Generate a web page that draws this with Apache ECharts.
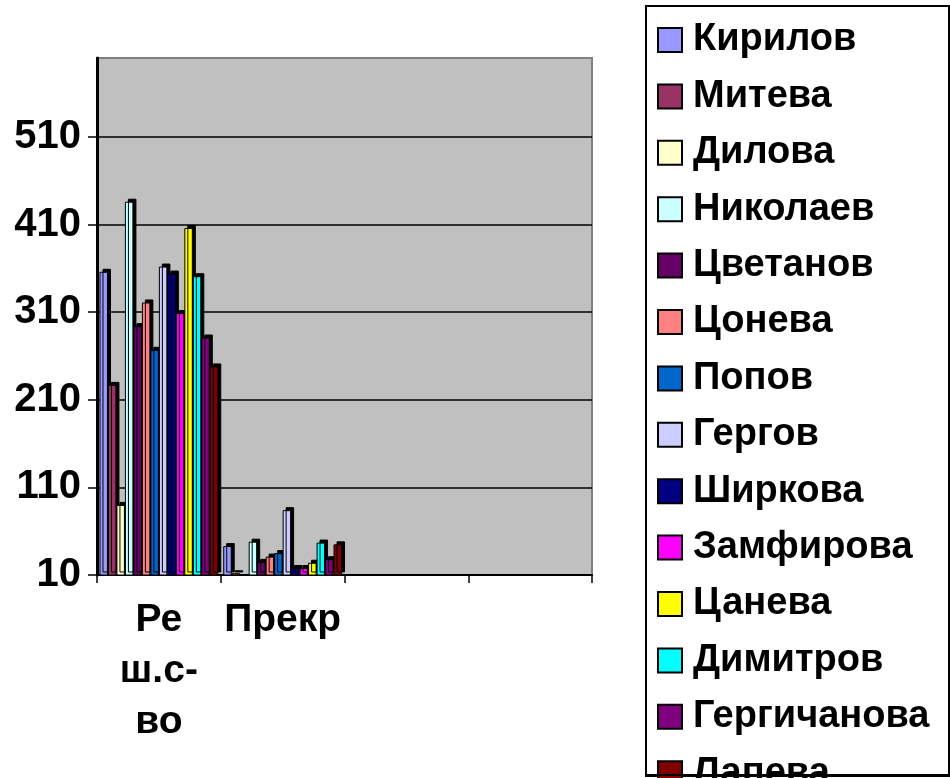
<!DOCTYPE html>
<html>
<head>
<meta charset="utf-8">
<script src="https://cdn.jsdelivr.net/npm/echarts@6/dist/echarts.min.js"></script>
<style>
  html, body { margin: 0; padding: 0; background: #fff; }
  #chart { width: 950px; height: 778px; }
</style>
</head>
<body>
<div id="chart"></div>
<script>
// categories on the x axis (only two carry data)
const categories = ["Реш.с-во", "Прекр", "", ""];
const categoryLabels = { "Реш.с-во": "Ре\nш.с-\nво" };

const names = ["Кирилов", "Митева", "Дилова", "Николаев", "Цветанов", "Цонева", "Попов",
  "Гергов", "Ширкова", "Замфирова", "Цанева", "Димитров", "Гергичанова", "Лапева"];

const colors = ["#9999FF", "#993366", "#FFFFCC", "#CCFFFF", "#660066", "#FF8080", "#0066CC",
  "#CCCCFF", "#000080", "#FF00FF", "#FFFF00", "#00FFFF", "#800080", "#800000"];

// values per category, one entry per person
const reshValues = [356, 227, 90, 436, 294, 321, 267, 362, 354, 309, 406, 351, 281, 248];
const prekrValues = [43, 12, 10, 48, 25, 31, 35, 84, 18, 18, 24, 47, 28, 45];

const yTicks = [110, 210, 310, 410, 510];

const font = "'Liberation Sans', Arial, sans-serif";

const chart = echarts.init(document.getElementById("chart"));

const series = names.map((n, i) => ({
  name: n,
  type: "bar",
  barGap: "0%",
  barCategoryGap: "4%",
  data: [reshValues[i], prekrValues[i], null, null],
  itemStyle: {
    color: colors[i],
    borderColor: "#000",
    borderWidth: 1,
    shadowColor: "#000",
    shadowBlur: 0,
    shadowOffsetX: 3,
    shadowOffsetY: -3
  },
  emphasis: { disabled: true },
  markLine: i === 0 ? {
    silent: true,
    symbol: "none",
    z: 1,
    label: { show: false },
    lineStyle: { color: "#000", width: 1.5, type: "solid" },
    data: yTicks.map(v => ({ yAxis: v }))
  } : undefined
}));

chart.setOption({
  animation: false,
  backgroundColor: "#fff",
  grid: {
    left: 97, right: 358, top: 58, bottom: 203,
    show: true, backgroundColor: "#C0C0C0", borderColor: "#808080", borderWidth: 2
  },
  graphic: [{
    type: "rect",
    left: 645, top: 5, z: -1,
    shape: { width: 303, height: 770 },
    style: { fill: "#fff", stroke: "#000", lineWidth: 2 }
  }, {
    type: "line",
    z: 100,
    shape: { x1: 645, y1: 775, x2: 948, y2: 775 },
    style: { stroke: "#000", lineWidth: 2 }
  }],
  legend: {
    orient: "vertical",
    left: 657, top: 21,
    height: 900,
    padding: 0,
    itemWidth: 24, itemHeight: 24,
    itemGap: 18.4,
    icon: "rect",
    data: names,
    itemStyle: { borderColor: "#000", borderWidth: 2, shadowBlur: 0, shadowOffsetX: 0, shadowOffsetY: 0, shadowColor: "rgba(0,0,0,0)" },
    textStyle: { fontFamily: font, fontSize: 38, lineHeight: 38, fontWeight: "bold", color: "#000", padding: [0, 0, 0, 6] },
    selectedMode: false
  },
  xAxis: {
    type: "category",
    data: categories,
    axisLine: { show: true, lineStyle: { color: "#000", width: 2 } },
    axisTick: { show: true, length: 8, lineStyle: { color: "#000", width: 1.5 } },
    axisLabel: {
      interval: 0,
      margin: 20,
      fontFamily: font, fontSize: 39, fontWeight: "bold", color: "#000",
      lineHeight: 51,
      formatter: v => categoryLabels[v] || v
    },
    splitLine: { show: false }
  },
  yAxis: {
    type: "value",
    min: 10, max: 600, interval: 100,
    axisLine: { show: true, lineStyle: { color: "#000", width: 3 } },
    axisTick: { show: true, length: 9, lineStyle: { color: "#000", width: 1.5 } },
    axisLabel: {
      margin: 16, showMaxLabel: false,
      fontFamily: font, fontSize: 40, fontWeight: "bold", color: "#000"
    },
    splitLine: { show: false }
  },
  series: series
});
</script>
</body>
</html>
